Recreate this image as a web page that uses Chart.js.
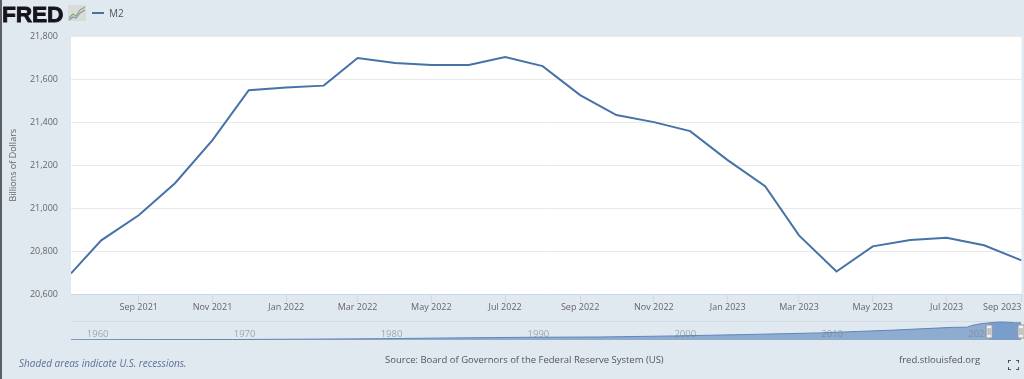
<!DOCTYPE html>
<html>
<head>
<meta charset="utf-8">
<script src="https://cdn.jsdelivr.net/npm/chart.js@4"></script>
<style>
html,body{margin:0;padding:0;width:1024px;height:379px;overflow:hidden;background:#e1e9f0;font-family:"Open Sans",sans-serif}
#leftEdge{position:absolute;left:0;top:0;width:2px;height:379px;background:#5c5f63}
#main{position:absolute;left:0;top:0}
#nav{position:absolute;left:0;top:315px}
.t{position:absolute;white-space:nowrap}
#logo{left:2px;top:-1px;font:bold 22.8px/30px "Liberation Sans",sans-serif;color:#14141a;letter-spacing:-.2px;-webkit-text-stroke:.8px #14141a}
#icon{position:absolute;left:68px;top:5px}
#legLine{position:absolute;left:92px;top:12px;width:12px;height:2px;background:#4572a7}
#legText{left:109px;top:6px;font-size:10px;line-height:14px;color:#555}
#shaded{left:19px;top:356px;font-size:10px;line-height:14px;font-style:italic;color:#5d6f9b}
#source{left:385px;top:353px;font-size:9.5px;line-height:14px;color:#555}
#site{left:899px;top:353px;font-size:9.5px;line-height:14px;color:#555}
#fs{position:absolute;left:1008px;top:360px}
</style>
</head>
<body>
<div id="leftEdge"></div>
<canvas id="main" width="1024" height="379"></canvas>
<canvas id="nav" width="1024" height="30"></canvas>
<div class="t" id="logo">FRED</div>
<svg id="icon" width="18" height="16" viewBox="0 0 18 16"><rect width="18" height="16" fill="#d9dcd6"/><polyline points="1,13 5,9 8,11 12,5 17,2" fill="none" stroke="#8fa878" stroke-width="1.2"/><polyline points="1,15 5,12 8,13 12,8 17,5" fill="none" stroke="#7f96b8" stroke-width="1.2"/></svg>
<div id="legLine"></div>
<div class="t" id="legText">M2</div>
<div class="t" id="shaded">Shaded areas indicate U.S. recessions.</div>
<div class="t" id="source">Source: Board of Governors of the Federal Reserve System (US)</div>
<div class="t" id="site">fred.stlouisfed.org</div>
<svg id="fs" width="11" height="10" viewBox="0 0 11 10"><path d="M0 3V0H3M8 0H11V3M11 7V10H8M3 10H0V7" fill="none" stroke="#333" stroke-width="1.6"/></svg>
<script>
const dates = ["2021-07-07","2021-08-01","2021-09-01","2021-10-01","2021-11-01","2021-12-01","2022-01-01","2022-02-01","2022-03-01","2022-04-01","2022-05-01","2022-06-01","2022-07-01","2022-08-01","2022-09-01","2022-10-01","2022-11-01","2022-12-01","2023-01-01","2023-02-01","2023-03-01","2023-04-01","2023-05-01","2023-06-01","2023-07-01","2023-08-01","2023-09-01"];
const m2Values = [20696,20850,20967,21116,21317,21550,21562,21571,21700,21676,21667,21667,21704,21662,21527,21434,21401,21359,21224,21102,20873,20705,20822,20852,20862,20827,20757];
const tickDates = ["2021-07-07","2021-09-01","2021-11-01","2022-01-01","2022-03-01","2022-05-01","2022-07-01","2022-09-01","2022-11-01","2023-01-01","2023-03-01","2023-05-01","2023-07-01","2023-09-01"];
const tickLabels = ["","Sep 2021","Nov 2021","Jan 2022","Mar 2022","May 2022","Jul 2022","Sep 2022","Nov 2022","Jan 2023","Mar 2023","May 2023","Jul 2023","Sep 2023"];
const yTicks = [20600,20800,21000,21200,21400,21600,21800];

const navYears = [1959,1965,1970,1975,1980,1985,1990,1995,2000,2005,2010,2015,2019,2020,2020.3,2021,2021.5];
const navValues = [290,460,590,1020,1600,2500,3280,3650,4900,6650,8600,12000,15300,15500,17500,19900,20696];
const selYears = [2021.5,2022,2022.2,2022.5,2022.7,2023,2023.3,2023.5,2023.67];
const selValues = [20696,21560,21700,21704,21527,21224,20705,20862,20757];
const navTickYears = [1960,1970,1980,1990,2000,2010,2020];

const day = s => Date.parse(s + "T00:00:00Z") / 86400000;
const FONT = '"Open Sans", sans-serif';

new Chart(document.getElementById("main"), {
  type: "line",
  data: { datasets: [{
    label: "M2",
    data: dates.map((d, i) => ({ x: day(d), y: m2Values[i] })),
    borderColor: "#4572a7", borderWidth: 2, pointRadius: 0, tension: 0, fill: false
  }]},
  plugins: [{ id: "plotBg", beforeDraw(c) {
    const a = c.chartArea; c.ctx.save(); c.ctx.fillStyle = "#fff";
    c.ctx.fillRect(a.left, a.top, a.width, a.height); c.ctx.restore();
  }}],
  options: {
    responsive: false, animation: false, events: [],
    layout: { padding: { left: 7, top: 36.5, right: 2.5, bottom: 0 } },
    plugins: { legend: { display: false }, tooltip: { enabled: false } },
    scales: {
      x: {
        type: "linear", min: day(dates[0]), max: day(dates[dates.length - 1]),
        afterBuildTicks(s) { s.ticks = tickDates.map(d => ({ value: day(d) })); },
        afterFit(s) { s.height = 85; },
        border: { color: "#cdd8e4", width: 1 },
        grid: { drawOnChartArea: false, drawTicks: true, tickLength: 8,
                color: c => c.index === 0 ? "rgba(0,0,0,0)" : "#cdd8e4" },
        ticks: { autoSkip: false, maxRotation: 0, align: "inner", padding: 0, color: "#666",
                 font: { family: FONT, size: 9 },
                 callback: v => tickLabels[tickDates.findIndex(d => day(d) === v)] }
      },
      y: {
        min: 20600, max: 21800,
        afterBuildTicks(s) { s.ticks = yTicks.map(v => ({ value: v })); },
        afterFit(s) { s.width = 64; },
        border: { display: false },
        grid: { color: "#e9e9e9", drawTicks: false },
        ticks: { padding: 13, color: "#666", font: { family: FONT, size: 9 },
                 callback: v => v.toLocaleString("en-US") },
        title: { display: true, text: "Billions of Dollars", color: "#666", padding: 1,
                 font: { family: FONT, size: 9 } }
      }
    }
  }
});

new Chart(document.getElementById("nav"), {
  type: "line",
  data: { datasets: [
    { label: "M2 history", data: navYears.map((x, i) => ({ x, y: navValues[i] })),
      borderColor: "#5f86b6", borderWidth: 1, backgroundColor: "#8eabd0", fill: "origin", pointRadius: 0, tension: 0 },
    { label: "Selected range", data: selYears.map((x, i) => ({ x, y: selValues[i] })),
      borderColor: "#5f86b6", borderWidth: 1, backgroundColor: "#7a9ecb", fill: "origin", pointRadius: 0, tension: 0 }
  ]},
  plugins: [{ id: "handles", afterDraw(c) {
    const ctx = c.ctx, xs = c.scales.x, a = c.chartArea;
    [selYears[0], selYears[selYears.length - 1]].forEach((v, i) => {
      const cx = Math.min(xs.getPixelForValue(v), i ? 1021 : 9999);
      ctx.save();
      ctx.fillStyle = "#f2f2f2"; ctx.strokeStyle = "#999"; ctx.lineWidth = 1;
      ctx.fillRect(cx - 3, a.top + 4, 6, 13); ctx.strokeRect(cx - 3, a.top + 4, 6, 13);
      ctx.beginPath(); ctx.moveTo(cx - 1, a.top + 7); ctx.lineTo(cx - 1, a.top + 14);
      ctx.moveTo(cx + 1, a.top + 7); ctx.lineTo(cx + 1, a.top + 14); ctx.stroke();
      ctx.restore();
    });
  }}],
  options: {
    responsive: false, animation: false, events: [],
    layout: { padding: { left: 71, top: 6, right: 3, bottom: 5 } },
    plugins: { legend: { display: false }, tooltip: { enabled: false } },
    scales: {
      x: {
        type: "linear", min: 1959, max: 2023.67,
        afterBuildTicks(s) { s.ticks = navTickYears.map(v => ({ value: v })); },
        afterFit(s) { s.height = 0; },
        border: { display: false }, grid: { display: false },
        ticks: { z: 1, mirror: true, autoSkip: false, maxRotation: 0, padding: 0, labelOffset: 12,
                 color: "rgba(120,130,145,.65)", font: { family: FONT, size: 9.5 },
                 callback: v => String(v) }
      },
      y: {
        display: true, min: 0, max: 23000, position: "left",
        afterBuildTicks(s) { s.ticks = [{ value: 23000 }]; },
        afterFit(s) { s.width = 0; },
        border: { display: false },
        grid: { color: "#d2dbe5", drawTicks: false },
        ticks: { display: false }
      }
    }
  }
});
</script>
</body>
</html>
